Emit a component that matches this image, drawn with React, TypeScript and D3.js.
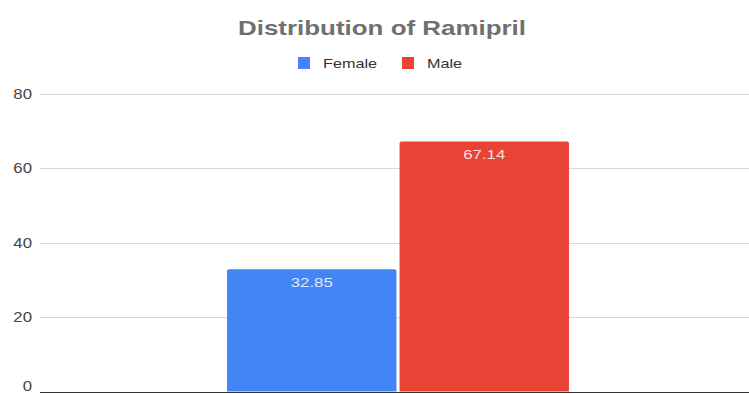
import React from 'react';
import * as d3 from 'd3';

const title = 'Distribution of Ramipril';
const categories = ['Ramipril'];
const seriesNames = ['Female', 'Male'];
const femaleValues = [32.85];
const maleValues = [67.14];
const seriesColors = ['#4285F4', '#EA4335'];
const yTicks = [0, 20, 40, 60, 80];

const FONT = "Arial, 'Liberation Sans', sans-serif";

function SText(props: any) {
  const { x, y, sx = 1, anchor = 'start', children, ...rest } = props;
  return (
    <text
      transform={`translate(${x},${y}) scale(${sx},1)`}
      textAnchor={anchor}
      fontFamily={FONT}
      {...rest}
    >
      {children}
    </text>
  );
}

function topRoundedBar(x: number, y: number, w: number, h: number, r: number) {
  const p = d3.path();
  p.moveTo(x, y + h);
  p.lineTo(x, y + r);
  p.quadraticCurveTo(x, y, x + r, y);
  p.lineTo(x + w - r, y);
  p.quadraticCurveTo(x + w, y, x + w, y + r);
  p.lineTo(x + w, y + h);
  p.closePath();
  return p.toString();
}

export default function App() {
  const W = 749;
  const H = 394;
  const left = 40;
  const right = 756;
  const top = 93.5;
  const bottom = 391.5;

  const y = d3.scaleLinear().domain([0, 80]).range([bottom, top]);
  const x0 = d3
    .scaleBand<string>()
    .domain(categories)
    .range([left, right])
    .paddingOuter(0.547)
    .paddingInner(0);
  const x1 = d3
    .scaleBand<string>()
    .domain(seriesNames)
    .range([0, x0.bandwidth()])
    .paddingInner(0.018);
  const seriesValues = [femaleValues, maleValues];
  const fmt = d3.format('.2f');

  return (
    <svg
      width={W}
      height={H}
      style={{ position: 'absolute', left: 0, top: 0, background: '#fff' }}
    >
      <rect x={0} y={0} width={W} height={H} fill="#fff" />
      {/* title */}
      <text
        x={382}
        y={35}
        textAnchor="middle"
        fontFamily={FONT}
        fontWeight="bold"
        fontSize={21}
        fill="#707070"
        textLength={288}
        lengthAdjust="spacingAndGlyphs"
      >
        {title}
      </text>

      {/* legend */}
      {seriesNames.map((s, i) => {
        const lx = i === 0 ? 298 : 402;
        return (
          <g key={s}>
            <rect x={lx} y={57} width={12} height={12} fill={seriesColors[i]} />
            <SText x={lx + 25} y={68} sx={1.35} fontSize={12} fill="#333">
              {s}
            </SText>
          </g>
        );
      })}

      {/* gridlines */}
      {yTicks.map((t) => (
        <g key={t}>
          <line
            x1={left}
            x2={W}
            y1={Math.round(y(t)) + 0.5}
            y2={Math.round(y(t)) + 0.5}
            stroke={t === 0 ? '#333' : '#d9d9d9'}
            strokeWidth={1}
          />
          <SText
            x={32}
            y={Math.min(y(t) + 5, H - 3)}
            sx={1.2}
            anchor="end"
            fontSize={14}
            fill="#444"
          >
            {String(t)}
          </SText>
        </g>
      ))}

      {/* bars */}
      {categories.map((c, ci) => (
        <g key={c}>
          {seriesNames.map((s, si) => {
            const v = seriesValues[si][ci];
            const bx = (x0(c) as number) + (x1(s) as number);
            const bw = x1.bandwidth();
            const by = y(v);
            const bh = y(0) - by;
            return (
              <g key={s}>
                <path d={topRoundedBar(bx, by, bw, bh, 2)} fill={seriesColors[si]} />
                <SText
                  x={bx + bw / 2}
                  y={by + 18}
                  sx={1.35}
                  anchor="middle"
                  fontSize={12.5}
                  fill="#fff"
                  fillOpacity={0.85}
                >
                  {fmt(v)}
                </SText>
              </g>
            );
          })}
        </g>
      ))}
    </svg>
  );
}
